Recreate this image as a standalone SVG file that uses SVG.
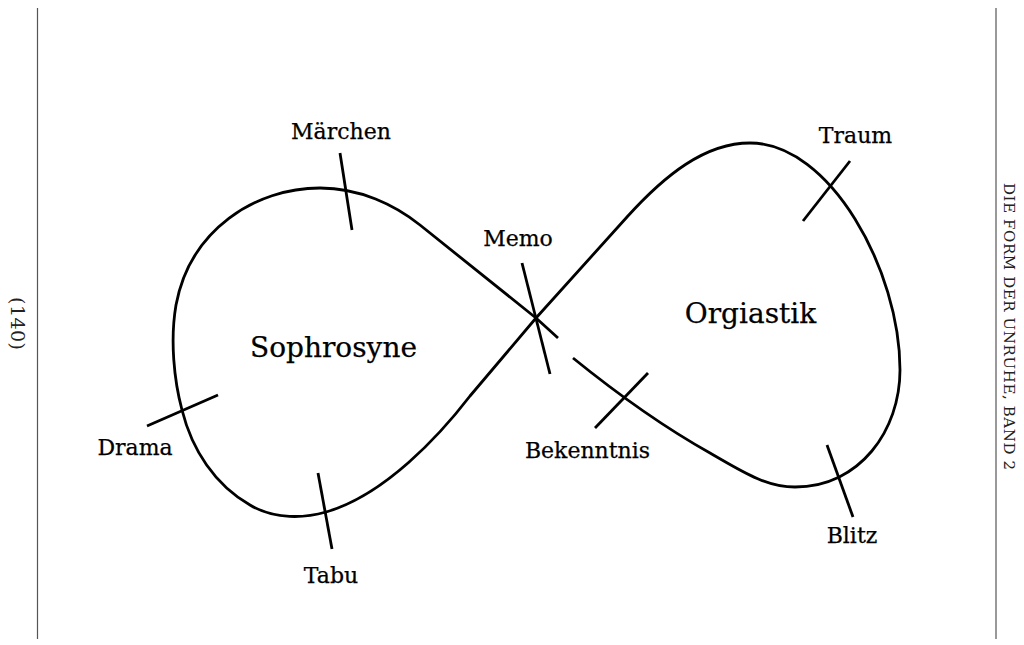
<svg xmlns="http://www.w3.org/2000/svg" width="1024" height="645" viewBox="0 0 1024 645">
<style>
.lbl{font-family:"DejaVu Serif","Liberation Serif",serif;font-size:22px;fill:#000;stroke:#000;stroke-width:0.25;text-anchor:middle}
.big{font-size:28px}
.tick{stroke:#000;stroke-width:2.8;fill:none;stroke-linecap:butt}
.curve{stroke:#000;stroke-width:2.8;fill:none;stroke-linejoin:round}
.rule{stroke:#555;stroke-width:1.2}
.side{font-family:"DejaVu Serif","Liberation Serif",serif;fill:#222}
</style>
<rect width="1024" height="645" fill="#fff"/>
<g id="page">
<line class="rule" x1="37.5" y1="8" x2="37.5" y2="639"/>
<line class="rule" x1="996" y1="8" x2="996" y2="639"/>
<text class="side" font-size="19" transform="translate(11,297) rotate(90)" textLength="53">(140)</text>
<text class="side" font-size="15" transform="translate(1004,183) rotate(90)" textLength="287" lengthAdjust="spacing">DIE FORM DER UNRUHE, BAND 2</text>
</g>
<g id="connectors">
<path class="curve" d="M573 358 C610 388 660 425 710 453 C740 470 765 487 795 487 C860 487 900 430 900 370 C900 270 830 143 750 143 C705 143 665 175 627 217 L536 318 L470 396 C440 435 385 495 326 512 C305 518 275 520 250 505 C215 485 192 450 182 410 C174 380 170 340 176 305 C190 230 255 188 320 188 C360 188 395 205 420 225 L536 318 L558 338"/>
</g>
<g id="node-sophrosyne"><text class="lbl big" x="333.5" y="357">Sophrosyne</text></g>
<g id="node-orgiastik"><text class="lbl big" x="750.5" y="323">Orgiastik</text></g>
<g id="node-maerchen"><line class="tick" x1="340" y1="153" x2="352" y2="230"/><text class="lbl" x="341" y="139">Märchen</text></g>
<g id="node-memo"><line class="tick" x1="522" y1="263" x2="550" y2="374"/><text class="lbl" x="518" y="246">Memo</text></g>
<g id="node-traum"><line class="tick" x1="850" y1="161" x2="803" y2="221"/><text class="lbl" x="855.5" y="143">Traum</text></g>
<g id="node-bekenntnis"><line class="tick" x1="648" y1="373" x2="595" y2="428"/><text class="lbl" x="587.5" y="458">Bekenntnis</text></g>
<g id="node-blitz"><line class="tick" x1="827" y1="445" x2="853" y2="517"/><text class="lbl" x="852" y="543">Blitz</text></g>
<g id="node-tabu"><line class="tick" x1="318" y1="473" x2="332" y2="549"/><text class="lbl" x="331" y="583">Tabu</text></g>
<g id="node-drama"><line class="tick" x1="147" y1="426" x2="218" y2="395"/><text class="lbl" x="135" y="455">Drama</text></g>
</svg>
